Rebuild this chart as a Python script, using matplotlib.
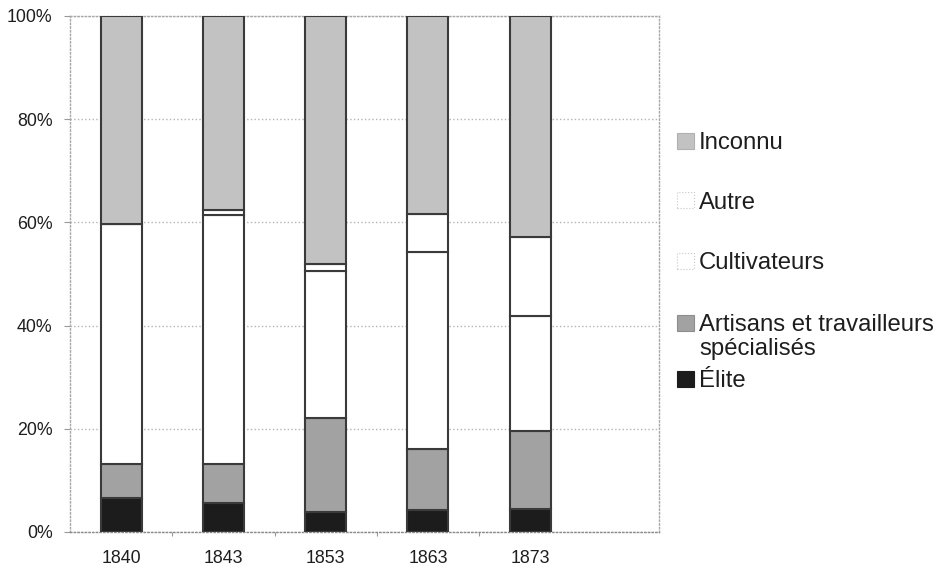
import matplotlib.pyplot as plt
from matplotlib.patches import Rectangle
import numpy as np

plt.rcParams['font.family'] = ['Liberation Sans', 'DejaVu Sans']

years = ['1840', '1843', '1853', '1863', '1873']
elite = [6.5, 5.7, 3.8, 4.2, 4.5]
artisans = [6.7, 7.5, 18.2, 11.8, 15.1]
cultivateurs = [46.5, 48.3, 28.6, 38.3, 22.3]
autre = [0.0, 0.9, 1.3, 7.4, 15.2]
inconnu = [40.3, 37.6, 48.1, 38.3, 42.9]

labels = ['Élite', 'Artisans et travailleurs\nspécialisés', 'Cultivateurs', 'Autre', 'Inconnu']
colors = ['#1c1c1c', '#a2a2a2', '#ffffff', '#ffffff', '#c2c2c2']
series = [elite, artisans, cultivateurs, autre, inconnu]

W, H = 939, 571
fig = plt.figure(figsize=(W / 100, H / 100), dpi=100)
ax = fig.add_axes([70 / W, 1 - 532 / H, 589 / W, 516 / H])

x = np.arange(len(years))
bottom = np.zeros(len(years))
for vals, col in zip(series, colors):
    ax.bar(x, vals, 0.40, bottom=bottom, color=col, edgecolor='#3a3a3a',
           linewidth=1.5, zorder=3)
    bottom += np.array(vals)

ax.set_xlim(-0.5, 5.26)
ax.set_ylim(0, 100)
ax.set_yticks(np.arange(0, 101, 20))
ax.set_yticklabels(['%d%%' % v for v in range(0, 101, 20)])
ax.set_xticks(x)
ax.set_xticklabels(years)
ax.set_xticks(x[:-1] + 0.5, minor=True)

ax.tick_params(axis='y', length=4, width=0.8, color='#999999', pad=8.5,
               labelsize=12.8, labelcolor='#1e1e1e')
ax.tick_params(axis='x', which='major', length=0, pad=13, labelsize=12.8,
               labelcolor='#1e1e1e')
ax.tick_params(axis='x', which='minor', length=3, width=0.8, color='#999999')

ax.grid(axis='y', color='#b4b4b4', linestyle=':', linewidth=1.0, zorder=0)
for s in ax.spines.values():
    s.set_color('#a8a8a8')
    s.set_linestyle(':')
    s.set_linewidth(1.0)
ax.spines['bottom'].set_color('#8a8a8a')

# legend drawn by hand so the two-line entry keeps its box on the first line
entries = [
    ('Inconnu', colors[4], '#b0b0b0', [149.5]),
    ('Autre', colors[3], '#c8c8c8', [209]),
    ('Cultivateurs', colors[2], '#c8c8c8', [269]),
    ('Artisans et travailleurs', colors[1], '#8e8e8e', [331, 355]),
    ('Élite', colors[0], '#1c1c1c', [387]),
]
sub = {'Artisans et travailleurs': 'spécialisés'}
for name, fc, ec, ys in entries:
    y0 = ys[0]
    fig.patches.append(Rectangle((677 / W, 1 - (y0 - 0.5) / H), 17 / W, 16 / H,
                                 transform=fig.transFigure, facecolor=fc,
                                 edgecolor=ec, linewidth=0.8,
                                 linestyle=':' if fc == '#ffffff' else '-'))
    fig.text(699 / W, 1 - y0 / H, name, fontsize=17.2, color='#1e1e1e',
             va='baseline', ha='left')
    if len(ys) > 1:
        fig.text(699 / W, 1 - ys[1] / H, sub[name], fontsize=17.2,
                 color='#1e1e1e', va='baseline', ha='left')

fig.savefig('out.png', dpi=100)
